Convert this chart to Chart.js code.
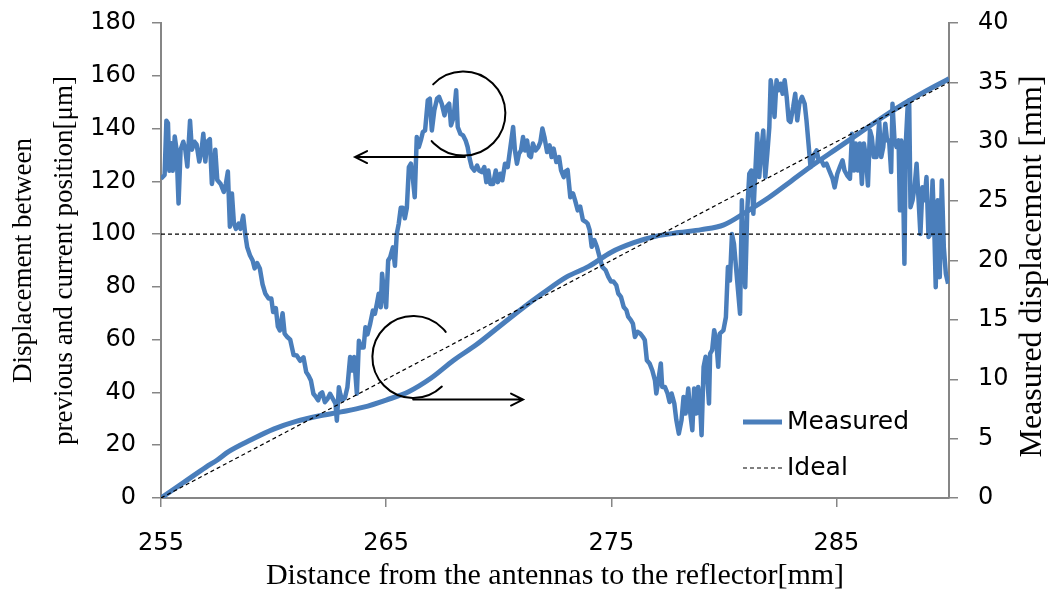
<!DOCTYPE html>
<html><head><meta charset="utf-8">
<script src="https://cdn.jsdelivr.net/npm/chart.js@4/dist/chart.umd.min.js"></script>
<style>html,body{margin:0;padding:0;background:#fff}#wrap{width:1058px;height:594px}</style>
</head><body><div id="wrap"><canvas id="c" width="1058" height="594"></canvas></div>
<script>
// ---- data ----
const xTicks = [255, 265, 275, 285];

// displacement between previous and current position [um] (left axis)
const dispX = [
255.00,255.16,255.24,255.31,255.37,255.46,255.52,255.61,255.69,255.78,255.87,255.99,256.08,256.17,256.29,256.37,256.49,256.58,256.70,256.79,
256.88,256.97,257.05,257.17,257.26,257.35,257.41,257.50,257.65,257.79,257.88,257.97,258.06,258.15,258.24,258.33,258.45,258.53,258.65,258.74,
258.83,258.95,259.07,259.16,259.27,259.39,259.51,259.63,259.78,259.90,259.98,260.10,260.19,260.28,260.40,260.49,260.61,
260.74,260.89,261.03,261.18,261.33,261.45,261.55,261.66,261.77,261.89,261.98,262.07,262.16,262.28,262.40,262.51,262.63,262.75,262.81,262.90,
262.96,263.05,263.17,263.28,263.40,263.49,263.58,263.70,263.79,263.88,264.00,264.08,264.17,264.29,264.41,264.50,264.59,264.67,264.76,264.82,
264.91,265.00,265.09,265.18,265.30,265.39,265.47,265.56,265.65,265.74,265.83,265.92,266.01,266.10,266.18,266.27,266.36,266.45,266.54,266.63,
266.73,266.85,266.94,267.03,267.14,267.26,267.35,267.47,267.59,267.68,267.80,267.88,268.00,268.11,268.18,268.30,268.42,268.53,268.62,268.71,
268.80,268.92,269.04,269.13,269.25,269.36,269.45,269.54,269.63,269.75,269.87,269.96,270.07,270.16,270.28,270.40,270.52,270.64,270.72,270.81,
270.90,270.99,271.08,271.17,271.26,271.35,271.43,271.52,271.64,271.76,271.85,271.94,272.03,272.15,272.26,272.35,272.44,272.56,272.68,272.77,272.89,
272.94,273.06,273.18,273.30,273.39,273.51,273.62,273.74,273.86,273.95,274.04,274.13,274.25,274.36,274.48,274.60,274.75,274.87,274.99,275.10,
275.22,275.31,275.43,275.55,275.67,275.75,275.87,275.96,276.05,276.17,276.29,276.41,276.49,276.58,276.70,276.82,276.94,277.00,277.09,277.20,
277.26,277.38,277.50,277.59,277.68,277.80,277.89,278.00,278.12,278.21,278.30,278.42,278.51,278.60,278.68,278.77,278.86,278.95,279.01,279.10,
279.19,279.28,279.34,279.39,279.48,279.57,279.66,279.75,279.82,
279.98,280.09,280.18,280.27,280.36,280.45,280.54,280.63,280.72,280.80,280.86,280.95,281.04,281.13,281.22,281.31,281.40,281.48,281.57,281.66,
281.75,281.84,281.93,282.02,282.08,282.17,282.25,282.34,282.43,282.52,282.61,282.70,282.79,282.88,282.96,283.08,283.17,283.26,283.35,283.47,
283.59,283.67,283.76,283.85,283.94,284.03,284.12,284.21,284.33,284.44,284.56,284.68,
284.83,284.92,285.04,285.15,285.27,285.36,285.48,285.60,285.69,285.78,285.86,285.95,286.04,286.13,286.22,286.31,286.40,286.49,286.57,286.66,
286.78,286.90,286.99,287.08,287.17,287.25,287.34,287.43,287.49,287.58,287.67,287.76,287.82,287.88,287.94,288.02,288.08,288.17,288.23,288.29,
288.38,288.47,288.56,288.65,288.73,288.82,288.91,289.00,289.09,289.18,289.27,289.36,289.41,289.50,289.59,289.68,289.77,289.86,289.96
];
const dispY = [
121,122.4,143,142,124,134.4,124,137,132,111.6,132,135,132,125.6,143,132,135,134,127.5,131,
138,127.5,135,136,119,124,132,120.5,119,116,119,123.7,102.8,115.4,104,102,104,102,107,100,
95,92,90,87,89,87,81,77.5,75.6,75.6,70.5,72,65,63.5,70,62.3,61,
60,54.2,54,52,53.3,47.7,46.4,44.5,39.5,38.2,37,39.5,40,36.3,37.6,39.5,37.6,35.7,29.3,42,
39.5,37,38,42,53.4,48.3,53.4,39.5,59.6,57,57,64.7,62,66,71,69.8,73.6,77.4,72.3,85,
77.4,72.3,90,91.3,95,88,100,104,110,110,106,110,125.4,126.7,121.6,114,136.8,133,135.5,138.7,
139.3,150.7,151.3,139.3,146.9,151.3,152,149.4,145,148.2,149.4,141.2,144.4,154.5,140.6,138,137.4,135.5,133,128.6,
125.4,124.1,126,124.1,123.5,125.4,119.7,124.1,119,119,124.1,119.7,122.9,120.4,126.7,125.4,133,140.6,131.7,126.7,
130.5,131.7,136.8,131.7,135.5,129.8,129.2,134.3,131.7,133,134.9,140,136.8,131.1,133.6,129.2,132.4,127.3,129.2,124.1,121.6,
123.6,124.3,114,115.4,112.9,109,110.4,105.3,104.7,104,101.5,95.2,97.7,95.2,91.4,87.6,86.3,83.8,82,82,
80.7,77.5,76.2,72.4,71.2,68.7,67.4,66.1,61,63,62.3,61,59.8,52.2,51,48.4,44.6,39.6,44.6,51,
42.1,42.1,39.6,36.4,39.6,35.8,29.5,24.4,29.5,38.3,32,41.5,32,25.7,41.5,32,42.1,34.5,23.8,49.7,
53.5,43.4,35.8,54.7,56,63.6,59.8,49.7,62.3,
63.5,68.5,87.5,82.4,100,96.3,87.5,78.6,69.8,112.8,95,79.9,109,122.9,124.1,107.7,124.1,138,121.6,131.7,
139.3,121.6,130.5,140.6,158.3,153.2,144.4,158.3,154.5,157,153.2,158.3,152,143.1,142.5,148.2,153.2,143.1,149.4,152,
149.4,143.1,134.3,125.4,128,130.5,131.7,128,128,126,126.7,124.1,
121,117.7,122.9,125.4,128,124.1,122.2,121,138,124.1,134.3,124.1,134.3,119,134.3,129.2,118.4,139.3,136.8,129.2,
129.2,142.5,129.2,133,141.8,135.5,135.5,123.5,149.4,135.5,133,135.5,109,135.5,130.5,88.8,134.3,149.4,150.7,110.2,
112.8,117.8,126.7,112.8,100,117.8,112.8,121.6,98.9,100,120.3,97.6,79.9,112.8,83.7,120.3,95,85,81.2
];

// measured (cumulative) displacement [mm] (right axis)
const measuredX  = [255,256,257,257.5,258,259,260,261,262,263,264,265,266,267,268,269,270,271,272,273,274,275,276,277,278,279,280,281,282,283,284,285,286,287,288,289,290];
const measuredMM = [0,1.3,2.6,3.2,3.9,4.9,5.8,6.45,6.9,7.25,7.65,8.25,8.95,10.1,11.6,12.9,14.4,15.9,17.3,18.6,19.5,20.7,21.5,22.05,22.35,22.6,23.0,24.1,25.3,26.7,28.1,29.4,30.7,32.0,33.2,34.3,35.3];

// ideal lines
const idealX  = [255, 290];
const idealMM = [0, 35];
const refX  = [255, 290];
const refUm = [100, 100];

const xTitle = 'Distance from the antennas to the reflector[mm]';
const yLeftTitle = ['Displacement between', 'previous and current position[\u03bcm]'];
const yRightTitle = 'Measured displacement [mm]';
const legendLabels = ['Measured', 'Ideal'];

const BLUE = '#4A7EBB';
const AXIS = '#868686';
const pts = (xs, ys) => xs.map((x, i) => ({x: x, y: ys[i]}));

// annotation plugin: the two circles with arrows, placed in data coordinates
const annotations = {
  id: 'circArrows',
  afterDatasetsDraw(chart) {
    const ctx = chart.ctx, sx = chart.scales.x, sy = chart.scales.y;
    const P = (x, y) => [sx.getPixelForValue(x), sy.getPixelForValue(y)];
    ctx.save();
    ctx.strokeStyle = '#000'; ctx.lineWidth = 2; ctx.lineCap = 'round';
    const deg = Math.PI / 180;
    let [cx, cy] = P(268.43, 145.7);
    ctx.beginPath(); ctx.arc(cx, cy, 42, -136 * deg, 139 * deg); ctx.stroke();
    let [ax0, ay] = P(268.5, 129.2); let [ax1] = P(263.62, 0);
    ctx.beginPath(); ctx.moveTo(ax0, ay); ctx.lineTo(ax1, ay);
    ctx.moveTo(ax1 + 12, ay - 6); ctx.lineTo(ax1, ay); ctx.lineTo(ax1 + 12, ay + 6); ctx.stroke();
    [cx, cy] = P(266.21, 53.4);
    ctx.beginPath(); ctx.arc(cx, cy, 41, 46 * deg, 322 * deg); ctx.stroke();
    [ax0, ay] = P(266.2, 37.3); [ax1] = P(271.08, 0);
    ctx.beginPath(); ctx.moveTo(ax0, ay); ctx.lineTo(ax1, ay);
    ctx.moveTo(ax1 - 12, ay - 6); ctx.lineTo(ax1, ay); ctx.lineTo(ax1 - 12, ay + 6); ctx.stroke();
    ctx.restore();
  }
};

// right axis title (reads bottom-to-top) and in-plot legend
const extras = {
  id: 'extras',
  afterDraw(chart) {
    const ctx = chart.ctx, a = chart.chartArea;
    ctx.save();
    ctx.fillStyle = '#000';
    ctx.font = '32px "Liberation Serif"';
    ctx.textAlign = 'center'; ctx.textBaseline = 'middle';
    ctx.translate(a.right + 84, (a.top + a.bottom) / 2 + 6);
    ctx.rotate(-Math.PI / 2);
    ctx.fillText(yRightTitle, 0, 0);
    ctx.restore();

    ctx.save();
    const lx = a.right - 206, ly = a.bottom - 76, gap = 46;
    legendLabels.forEach((lab, i) => {
      const ds = chart.data.datasets.find(d => d.label === lab);
      const y = ly + i * gap;
      ctx.beginPath();
      ctx.strokeStyle = ds.borderColor;
      ctx.lineWidth = ds.borderWidth;
      ctx.setLineDash(ds.borderDash || []);
      ctx.moveTo(lx, y); ctx.lineTo(lx + 39, y); ctx.stroke();
      ctx.setLineDash([]);
      ctx.fillStyle = '#000';
      ctx.font = '25px "DejaVu Sans"';
      ctx.textAlign = 'left'; ctx.textBaseline = 'middle';
      ctx.fillText(lab, lx + 44, y);
    });
    ctx.restore();
  }
};

const tickFont = {family: 'DejaVu Sans', size: 24};
const fixV = w => s => { s.width = w; s.paddingTop = 0; s.paddingBottom = 0; };

new Chart(document.getElementById('c'), {
  type: 'line',
  data: {
    datasets: [
      {label: 'Ideal', data: pts(idealX, idealMM), yAxisID: 'y1', borderColor: '#000', borderWidth: 1.2, borderDash: [4, 3], pointRadius: 0, fill: false},
      {label: 'Ideal step', data: pts(refX, refUm), yAxisID: 'y', borderColor: '#000', borderWidth: 1.2, borderDash: [4, 3], pointRadius: 0, fill: false},
      {label: 'Displacement between previous and current position', data: pts(dispX, dispY), yAxisID: 'y', borderColor: BLUE, borderWidth: 4.5, pointRadius: 0, tension: 0, borderJoinStyle: 'round', fill: false},
      {label: 'Measured', data: pts(measuredX, measuredMM), yAxisID: 'y1', borderColor: BLUE, borderWidth: 5, pointRadius: 0, cubicInterpolationMode: 'monotone', fill: false}
    ]
  },
  options: {
    responsive: false,
    animation: false,
    devicePixelRatio: 1,
    layout: {padding: {top: 23, left: 0, right: 0, bottom: 0}},
    plugins: {legend: {display: false}, tooltip: {enabled: false}},
    scales: {
      x: {
        type: 'linear', min: 255, max: 290,
        afterBuildTicks: s => { s.ticks = xTicks.map(v => ({value: v})); },
        afterFit: s => { s.height = 96; s.paddingLeft = 0; s.paddingRight = 0; },
        ticks: {font: tickFont, color: '#000', padding: 22, maxRotation: 0, autoSkip: false, callback: v => String(v)},
        grid: {drawOnChartArea: false, tickLength: 9, color: AXIS, lineWidth: 1.5},
        border: {color: AXIS, width: 2},
        title: {display: true, text: xTitle, color: '#000', font: {family: 'Liberation Serif', size: 30, lineHeight: 1.2}, padding: 0}
      },
      y: {
        type: 'linear', position: 'left', min: 0, max: 180,
        afterFit: fixV(161),
        ticks: {stepSize: 20, font: tickFont, color: '#000', padding: 16},
        grid: {drawOnChartArea: false, tickLength: 9, color: AXIS, lineWidth: 1.5},
        border: {color: AXIS, width: 2},
        title: {display: true, text: yLeftTitle, color: '#000', font: {family: 'Liberation Serif', size: 27, lineHeight: 1.5}, padding: {top: 4, bottom: 0}}
      },
      y1: {
        type: 'linear', position: 'right', min: 0, max: 40,
        afterFit: fixV(109),
        ticks: {stepSize: 5, font: tickFont, color: '#000', padding: 20},
        grid: {drawOnChartArea: false, tickLength: 9, color: AXIS, lineWidth: 1.5},
        border: {color: AXIS, width: 2}
      }
    }
  },
  plugins: [annotations, extras]
});
</script>
</body></html>
